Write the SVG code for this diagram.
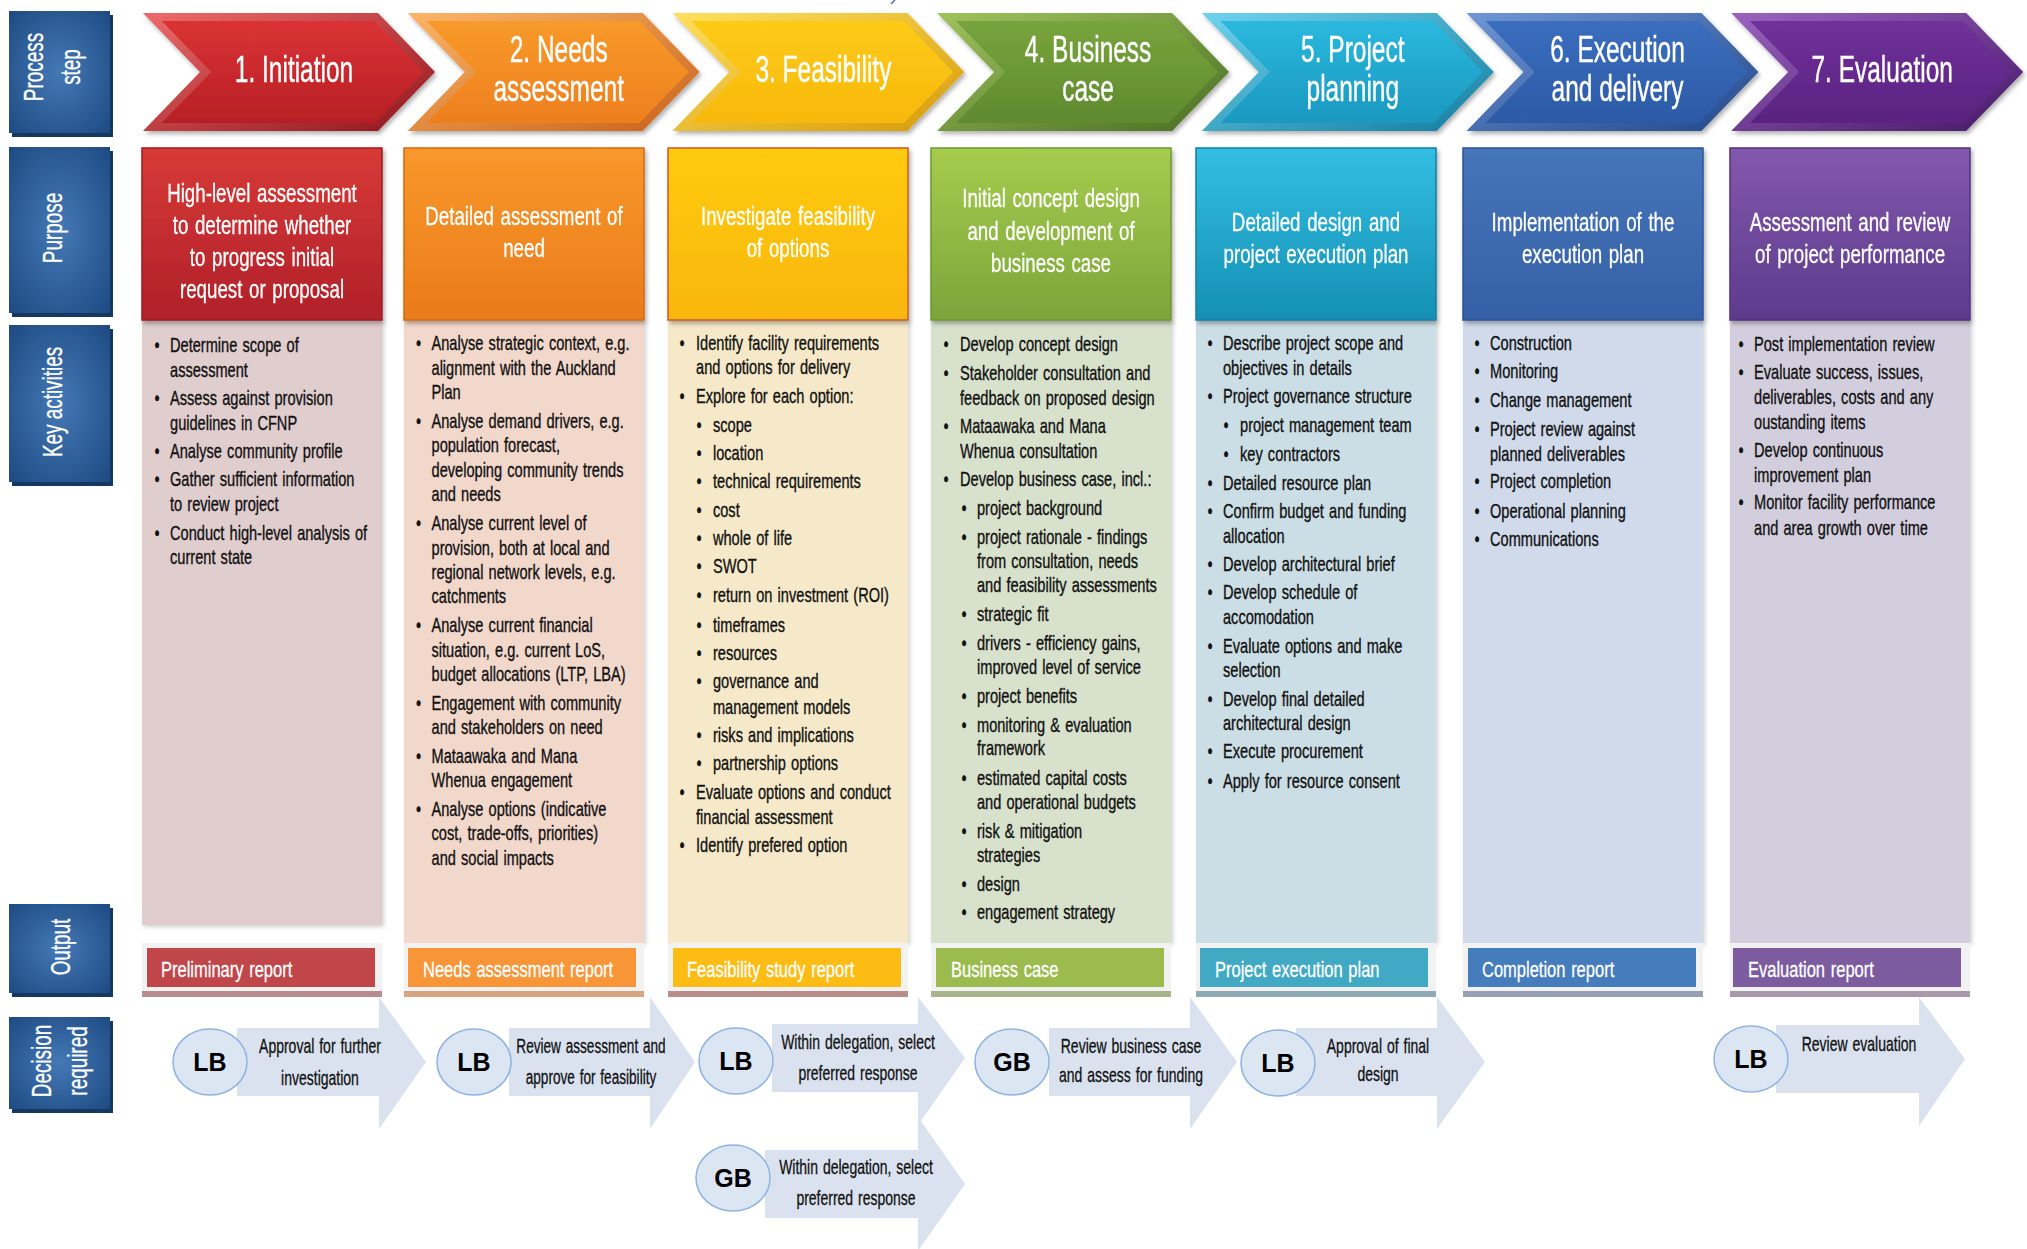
<svg xmlns="http://www.w3.org/2000/svg" width="2027" height="1249" viewBox="0 0 2027 1249">
<style>
text { font-family: "Liberation Sans", Arial, sans-serif; }
.chev { font-size: 36px; fill: #ffffff; text-anchor: middle; stroke: #ffffff; stroke-width: 0.4px; }
.purp { font-size: 26px; fill: #ffffff; text-anchor: middle; word-spacing: 2px; stroke: #ffffff; stroke-width: 0.3px; }
.act { font-size: 20px; fill: #111111; word-spacing: 1.5px; stroke: #111111; stroke-width: 0.35px; }
.out { font-size: 22px; fill: #ffffff; word-spacing: 1.5px; stroke: #ffffff; stroke-width: 0.3px; }
.dec { font-size: 20px; fill: #111111; text-anchor: middle; word-spacing: 1.5px; stroke: #111111; stroke-width: 0.3px; }
.badge { font-size: 25px; font-weight: bold; fill: #000000; text-anchor: middle; }
.row { font-size: 27px; fill: #ffffff; text-anchor: middle; stroke: #ffffff; stroke-width: 0.3px; }
.rowbox { fill: url(#rl); }
.rowsh { fill: #143862; }
.frame { fill: #F2F2F2; }
.arrow { fill: #DAE2EF; }
.badgeshape { fill: #DCE6F3; stroke: #8DB3E2; stroke-width: 1.5; }
</style>
<defs>
<filter id="sh" x="-5%" y="-5%" width="115%" height="120%"><feDropShadow dx="2" dy="3" stdDeviation="2" flood-color="#000" flood-opacity="0.3"/></filter>
<filter id="shl" x="-5%" y="-2%" width="115%" height="106%"><feDropShadow dx="2" dy="2" stdDeviation="2" flood-color="#000" flood-opacity="0.18"/></filter>
<radialGradient id="rl" cx="50%" cy="50%" r="70%"><stop offset="0" stop-color="#4479B6"/><stop offset="1" stop-color="#1E4A82"/></radialGradient>
<polygon id="chevOuter" points="0,13 235,13 292,72 235,131 0,131 57,72"/>
<polygon id="chevInner" points="18.8,21 231.6,21 280.9,72 231.6,123 18.8,123 68.1,72"/>
<linearGradient id="c1" x1="0" y1="0" x2="0" y2="1"><stop offset="0" stop-color="#DA3335"/><stop offset="1" stop-color="#B71F26"/></linearGradient>
<linearGradient id="c2" x1="0" y1="0" x2="0" y2="1"><stop offset="0" stop-color="#F89A2A"/><stop offset="1" stop-color="#EE7F1E"/></linearGradient>
<linearGradient id="c3" x1="0" y1="0" x2="0" y2="1"><stop offset="0" stop-color="#FDCB16"/><stop offset="1" stop-color="#F8B80E"/></linearGradient>
<linearGradient id="c4" x1="0" y1="0" x2="0" y2="1"><stop offset="0" stop-color="#78A43C"/><stop offset="1" stop-color="#5F8A2F"/></linearGradient>
<linearGradient id="c5" x1="0" y1="0" x2="0" y2="1"><stop offset="0" stop-color="#2BB8DE"/><stop offset="1" stop-color="#1A98C0"/></linearGradient>
<linearGradient id="c6" x1="0" y1="0" x2="0" y2="1"><stop offset="0" stop-color="#3A6EBE"/><stop offset="1" stop-color="#2C5AA6"/></linearGradient>
<linearGradient id="c7" x1="0" y1="0" x2="0" y2="1"><stop offset="0" stop-color="#70319A"/><stop offset="1" stop-color="#5A2381"/></linearGradient>
<linearGradient id="b1" x1="0" y1="0" x2="1" y2="1"><stop offset="0" stop-color="#EE6B6B"/><stop offset="1" stop-color="#8F151B"/></linearGradient>
<linearGradient id="b2" x1="0" y1="0" x2="1" y2="1"><stop offset="0" stop-color="#FBB56A"/><stop offset="1" stop-color="#C9621A"/></linearGradient>
<linearGradient id="b3" x1="0" y1="0" x2="1" y2="1"><stop offset="0" stop-color="#FEE05E"/><stop offset="1" stop-color="#D79A08"/></linearGradient>
<linearGradient id="b4" x1="0" y1="0" x2="1" y2="1"><stop offset="0" stop-color="#A0C35E"/><stop offset="1" stop-color="#496E22"/></linearGradient>
<linearGradient id="b5" x1="0" y1="0" x2="1" y2="1"><stop offset="0" stop-color="#6FD3EE"/><stop offset="1" stop-color="#137C9E"/></linearGradient>
<linearGradient id="b6" x1="0" y1="0" x2="1" y2="1"><stop offset="0" stop-color="#6F96D6"/><stop offset="1" stop-color="#22478A"/></linearGradient>
<linearGradient id="b7" x1="0" y1="0" x2="1" y2="1"><stop offset="0" stop-color="#9A63C0"/><stop offset="1" stop-color="#451866"/></linearGradient>
<linearGradient id="p1" x1="0" y1="0" x2="0" y2="1"><stop offset="0" stop-color="#D73A36"/><stop offset="1" stop-color="#B0202A"/></linearGradient>
<linearGradient id="p2" x1="0" y1="0" x2="0" y2="1"><stop offset="0" stop-color="#F8982A"/><stop offset="1" stop-color="#EB7B1B"/></linearGradient>
<linearGradient id="p3" x1="0" y1="0" x2="0" y2="1"><stop offset="0" stop-color="#FFCB0E"/><stop offset="1" stop-color="#F8B60A"/></linearGradient>
<linearGradient id="p4" x1="0" y1="0" x2="0" y2="1"><stop offset="0" stop-color="#A6CC4E"/><stop offset="1" stop-color="#7BA53A"/></linearGradient>
<linearGradient id="p5" x1="0" y1="0" x2="0" y2="1"><stop offset="0" stop-color="#33BEE3"/><stop offset="1" stop-color="#1590B4"/></linearGradient>
<linearGradient id="p6" x1="0" y1="0" x2="0" y2="1"><stop offset="0" stop-color="#4675BA"/><stop offset="1" stop-color="#3560A6"/></linearGradient>
<linearGradient id="p7" x1="0" y1="0" x2="0" y2="1"><stop offset="0" stop-color="#8259AC"/><stop offset="1" stop-color="#5D3A8C"/></linearGradient>
</defs>
<rect x="0" y="0" width="2027" height="1249" fill="#ffffff"/>
<path d="M895 0 L891 4" stroke="#3A6FC4" stroke-width="1.5" fill="none"/>

<!-- Row labels -->
<g id="label-process-step">
<rect class="rowsh" x="12" y="15" width="101" height="122"/>
<rect class="rowbox" x="9" y="11" width="101" height="122"/>
<text class="row" transform="translate(43 67) rotate(-90) scale(0.7 1)">Process</text>
<text class="row" transform="translate(80 67) rotate(-90) scale(0.7 1)">step</text>
</g>
<g id="label-purpose">
<rect class="rowsh" x="12" y="151" width="101" height="166"/>
<rect class="rowbox" x="9" y="147" width="101" height="166"/>
<text class="row" transform="translate(62 228) rotate(-90) scale(0.7 1)">Purpose</text>
</g>
<g id="label-key-activities">
<rect class="rowsh" x="12" y="329" width="101" height="157"/>
<rect class="rowbox" x="9" y="325" width="101" height="157"/>
<text class="row" transform="translate(62 402) rotate(-90) scale(0.7 1)">Key activities</text>
</g>
<g id="label-output">
<rect class="rowsh" x="12" y="908" width="101" height="89"/>
<rect class="rowbox" x="9" y="904" width="101" height="89"/>
<text class="row" transform="translate(70 947) rotate(-90) scale(0.7 1)">Output</text>
</g>
<g id="label-decision-required">
<rect class="rowsh" x="12" y="1021" width="101" height="92"/>
<rect class="rowbox" x="9" y="1017" width="101" height="92"/>
<text class="row" transform="translate(51 1061) rotate(-90) scale(0.7 1)">Decision</text>
<text class="row" transform="translate(87 1061) rotate(-90) scale(0.7 1)">required</text>
</g>

<!-- Chevrons -->
<g id="step1-chevron" filter="url(#sh)">
<use href="#chevOuter" x="143" fill="url(#b1)"/><use href="#chevInner" x="143" fill="url(#c1)"/>
<g transform="translate(294 0) scale(0.68 1)"><text class="chev" x="0" y="82">1. Initiation</text></g>
</g>
<g id="step2-chevron" filter="url(#sh)">
<use href="#chevOuter" x="407.7" fill="url(#b2)"/><use href="#chevInner" x="407.7" fill="url(#c2)"/>
<g transform="translate(558.7 0) scale(0.68 1)"><text class="chev" x="0" y="62">2. Needs</text><text class="chev" x="0" y="101">assessment</text></g>
</g>
<g id="step3-chevron" filter="url(#sh)">
<use href="#chevOuter" x="672.4" fill="url(#b3)"/><use href="#chevInner" x="672.4" fill="url(#c3)"/>
<g transform="translate(823.4 0) scale(0.68 1)"><text class="chev" x="0" y="82">3. Feasibility</text></g>
</g>
<g id="step4-chevron" filter="url(#sh)">
<use href="#chevOuter" x="937.1" fill="url(#b4)"/><use href="#chevInner" x="937.1" fill="url(#c4)"/>
<g transform="translate(1088.1 0) scale(0.68 1)"><text class="chev" x="0" y="62">4. Business</text><text class="chev" x="0" y="101">case</text></g>
</g>
<g id="step5-chevron" filter="url(#sh)">
<use href="#chevOuter" x="1201.8" fill="url(#b5)"/><use href="#chevInner" x="1201.8" fill="url(#c5)"/>
<g transform="translate(1352.8 0) scale(0.68 1)"><text class="chev" x="0" y="62">5. Project</text><text class="chev" x="0" y="101">planning</text></g>
</g>
<g id="step6-chevron" filter="url(#sh)">
<use href="#chevOuter" x="1466.5" fill="url(#b6)"/><use href="#chevInner" x="1466.5" fill="url(#c6)"/>
<g transform="translate(1617.5 0) scale(0.68 1)"><text class="chev" x="0" y="62">6. Execution</text><text class="chev" x="0" y="101">and delivery</text></g>
</g>
<g id="step7-chevron" filter="url(#sh)">
<use href="#chevOuter" x="1731.2" fill="url(#b7)"/><use href="#chevInner" x="1731.2" fill="url(#c7)"/>
<g transform="translate(1882.2 0) scale(0.68 1)"><text class="chev" x="0" y="82">7. Evaluation</text></g>
</g>

<!-- Activity panels -->
<g id="step1-activities">
<rect x="142" y="320" width="240" height="605" fill="#E0CDCE" filter="url(#shl)"/>
<g transform="translate(142 0) scale(0.73 1)"><text class="act">
<tspan x="17.1" y="352">•</tspan><tspan x="38.4" y="352">Determine scope of</tspan>
<tspan x="38.4" y="377">assessment</tspan>
<tspan x="17.1" y="405.5">•</tspan><tspan x="38.4" y="405.5">Assess against provision</tspan>
<tspan x="38.4" y="430">guidelines in CFNP</tspan>
<tspan x="17.1" y="458">•</tspan><tspan x="38.4" y="458">Analyse community profile</tspan>
<tspan x="17.1" y="486.5">•</tspan><tspan x="38.4" y="486.5">Gather sufficient information</tspan>
<tspan x="38.4" y="511">to review project</tspan>
<tspan x="17.1" y="540">•</tspan><tspan x="38.4" y="540">Conduct high-level analysis of</tspan>
<tspan x="38.4" y="564.5">current state</tspan>
</text></g>
</g>
<g id="step2-activities">
<rect x="404" y="320" width="240" height="623" fill="#F2D7CB" filter="url(#shl)"/>
<g transform="translate(404 0) scale(0.73 1)"><text class="act">
<tspan x="16.4" y="350">•</tspan><tspan x="37.7" y="350">Analyse strategic context, e.g.</tspan>
<tspan x="37.7" y="375">alignment with the Auckland</tspan>
<tspan x="37.7" y="399">Plan</tspan>
<tspan x="16.4" y="428">•</tspan><tspan x="37.7" y="428">Analyse demand drivers, e.g.</tspan>
<tspan x="37.7" y="452">population forecast,</tspan>
<tspan x="37.7" y="477">developing community trends</tspan>
<tspan x="37.7" y="501">and needs</tspan>
<tspan x="16.4" y="530">•</tspan><tspan x="37.7" y="530">Analyse current level of</tspan>
<tspan x="37.7" y="555">provision, both at local and</tspan>
<tspan x="37.7" y="579">regional network levels, e.g.</tspan>
<tspan x="37.7" y="603">catchments</tspan>
<tspan x="16.4" y="632">•</tspan><tspan x="37.7" y="632">Analyse current financial</tspan>
<tspan x="37.7" y="657">situation, e.g. current LoS,</tspan>
<tspan x="37.7" y="681">budget allocations (LTP, LBA)</tspan>
<tspan x="16.4" y="710">•</tspan><tspan x="37.7" y="710">Engagement with community</tspan>
<tspan x="37.7" y="734">and stakeholders on need</tspan>
<tspan x="16.4" y="763">•</tspan><tspan x="37.7" y="763">Mataawaka and Mana</tspan>
<tspan x="37.7" y="787">Whenua engagement</tspan>
<tspan x="16.4" y="816">•</tspan><tspan x="37.7" y="816">Analyse options (indicative</tspan>
<tspan x="37.7" y="840.5">cost, trade-offs, priorities)</tspan>
<tspan x="37.7" y="865">and social impacts</tspan>
</text></g>
</g>
<g id="step3-activities">
<rect x="668" y="320" width="240" height="623" fill="#F5E9C9" filter="url(#shl)"/>
<g transform="translate(668 0) scale(0.73 1)"><text class="act">
<tspan x="15.8" y="350">•</tspan><tspan x="38.4" y="350">Identify facility requirements</tspan>
<tspan x="38.4" y="374">and options for delivery</tspan>
<tspan x="15.8" y="403">•</tspan><tspan x="38.4" y="403">Explore for each option:</tspan>
<tspan x="39" y="432.5">•</tspan><tspan x="61.6" y="432.5">scope</tspan>
<tspan x="39" y="460">•</tspan><tspan x="61.6" y="460">location</tspan>
<tspan x="39" y="488.5">•</tspan><tspan x="61.6" y="488.5">technical requirements</tspan>
<tspan x="39" y="517.5">•</tspan><tspan x="61.6" y="517.5">cost</tspan>
<tspan x="39" y="545">•</tspan><tspan x="61.6" y="545">whole of life</tspan>
<tspan x="39" y="573.5">•</tspan><tspan x="61.6" y="573.5">SWOT</tspan>
<tspan x="39" y="602.5">•</tspan><tspan x="61.6" y="602.5">return on investment (ROI)</tspan>
<tspan x="39" y="632">•</tspan><tspan x="61.6" y="632">timeframes</tspan>
<tspan x="39" y="660">•</tspan><tspan x="61.6" y="660">resources</tspan>
<tspan x="39" y="688">•</tspan><tspan x="61.6" y="688">governance and</tspan>
<tspan x="61.6" y="714">management models</tspan>
<tspan x="39" y="742">•</tspan><tspan x="61.6" y="742">risks and implications</tspan>
<tspan x="39" y="770.5">•</tspan><tspan x="61.6" y="770.5">partnership options</tspan>
<tspan x="15.8" y="799">•</tspan><tspan x="38.4" y="799">Evaluate options and conduct</tspan>
<tspan x="38.4" y="824">financial assessment</tspan>
<tspan x="15.8" y="852.5">•</tspan><tspan x="38.4" y="852.5">Identify prefered option</tspan>
</text></g>
</g>
<g id="step4-activities">
<rect x="931" y="320" width="240" height="623" fill="#D8E1CC" filter="url(#shl)"/>
<g transform="translate(931 0) scale(0.73 1)"><text class="act">
<tspan x="17.1" y="351">•</tspan><tspan x="39.7" y="351">Develop concept design</tspan>
<tspan x="17.1" y="380">•</tspan><tspan x="39.7" y="380">Stakeholder consultation and</tspan>
<tspan x="39.7" y="405">feedback on proposed design</tspan>
<tspan x="17.1" y="433">•</tspan><tspan x="39.7" y="433">Mataawaka and Mana</tspan>
<tspan x="39.7" y="458">Whenua consultation</tspan>
<tspan x="17.1" y="486.5">•</tspan><tspan x="39.7" y="486.5">Develop business case, incl.:</tspan>
<tspan x="41.8" y="515">•</tspan><tspan x="63" y="515">project background</tspan>
<tspan x="41.8" y="544">•</tspan><tspan x="63" y="544">project rationale - findings</tspan>
<tspan x="63" y="568">from consultation, needs</tspan>
<tspan x="63" y="592.5">and feasibility assessments</tspan>
<tspan x="41.8" y="621">•</tspan><tspan x="63" y="621">strategic fit</tspan>
<tspan x="41.8" y="650">•</tspan><tspan x="63" y="650">drivers - efficiency gains,</tspan>
<tspan x="63" y="674.5">improved level of service</tspan>
<tspan x="41.8" y="703">•</tspan><tspan x="63" y="703">project benefits</tspan>
<tspan x="41.8" y="732">•</tspan><tspan x="63" y="732">monitoring &amp; evaluation</tspan>
<tspan x="63" y="755.5">framework</tspan>
<tspan x="41.8" y="785">•</tspan><tspan x="63" y="785">estimated capital costs</tspan>
<tspan x="63" y="809">and operational budgets</tspan>
<tspan x="41.8" y="838">•</tspan><tspan x="63" y="838">risk &amp; mitigation</tspan>
<tspan x="63" y="862">strategies</tspan>
<tspan x="41.8" y="891">•</tspan><tspan x="63" y="891">design</tspan>
<tspan x="41.8" y="919.5">•</tspan><tspan x="63" y="919.5">engagement strategy</tspan>
</text></g>
</g>
<g id="step5-activities">
<rect x="1196" y="320" width="240" height="623" fill="#CCDEE5" filter="url(#shl)"/>
<g transform="translate(1196 0) scale(0.73 1)"><text class="act">
<tspan x="15.8" y="350">•</tspan><tspan x="37" y="350">Describe project scope and</tspan>
<tspan x="37" y="375">objectives in details</tspan>
<tspan x="15.8" y="403.5">•</tspan><tspan x="37" y="403.5">Project governance structure</tspan>
<tspan x="37.7" y="432.5">•</tspan><tspan x="60.3" y="432.5">project management team</tspan>
<tspan x="37.7" y="461">•</tspan><tspan x="60.3" y="461">key contractors</tspan>
<tspan x="15.8" y="490">•</tspan><tspan x="37" y="490">Detailed resource plan</tspan>
<tspan x="15.8" y="518">•</tspan><tspan x="37" y="518">Confirm budget and funding</tspan>
<tspan x="37" y="543">allocation</tspan>
<tspan x="15.8" y="571.5">•</tspan><tspan x="37" y="571.5">Develop architectural brief</tspan>
<tspan x="15.8" y="599">•</tspan><tspan x="37" y="599">Develop schedule of</tspan>
<tspan x="37" y="624">accomodation</tspan>
<tspan x="15.8" y="653.5">•</tspan><tspan x="37" y="653.5">Evaluate options and make</tspan>
<tspan x="37" y="677.5">selection</tspan>
<tspan x="15.8" y="706">•</tspan><tspan x="37" y="706">Develop final detailed</tspan>
<tspan x="37" y="730.5">architectural design</tspan>
<tspan x="15.8" y="758.5">•</tspan><tspan x="37" y="758.5">Execute procurement</tspan>
<tspan x="15.8" y="788">•</tspan><tspan x="37" y="788">Apply for resource consent</tspan>
</text></g>
</g>
<g id="step6-activities">
<rect x="1463" y="320" width="240" height="623" fill="#D0DAEB" filter="url(#shl)"/>
<g transform="translate(1463 0) scale(0.73 1)"><text class="act">
<tspan x="15.8" y="350">•</tspan><tspan x="37" y="350">Construction</tspan>
<tspan x="15.8" y="378.5">•</tspan><tspan x="37" y="378.5">Monitoring</tspan>
<tspan x="15.8" y="407.5">•</tspan><tspan x="37" y="407.5">Change management</tspan>
<tspan x="15.8" y="436.5">•</tspan><tspan x="37" y="436.5">Project review against</tspan>
<tspan x="37" y="461">planned deliverables</tspan>
<tspan x="15.8" y="488.5">•</tspan><tspan x="37" y="488.5">Project completion</tspan>
<tspan x="15.8" y="518">•</tspan><tspan x="37" y="518">Operational planning</tspan>
<tspan x="15.8" y="546.5">•</tspan><tspan x="37" y="546.5">Communications</tspan>
</text></g>
</g>
<g id="step7-activities">
<rect x="1730" y="320" width="240" height="623" fill="#D3CEDD" filter="url(#shl)"/>
<g transform="translate(1730 0) scale(0.73 1)"><text class="act">
<tspan x="11.6" y="351">•</tspan><tspan x="32.9" y="351">Post implementation review</tspan>
<tspan x="11.6" y="379">•</tspan><tspan x="32.9" y="379">Evaluate success, issues,</tspan>
<tspan x="32.9" y="404">deliverables, costs and any</tspan>
<tspan x="32.9" y="429">oustanding items</tspan>
<tspan x="11.6" y="457">•</tspan><tspan x="32.9" y="457">Develop continuous</tspan>
<tspan x="32.9" y="482">improvement plan</tspan>
<tspan x="11.6" y="509.5">•</tspan><tspan x="32.9" y="509.5">Monitor facility performance</tspan>
<tspan x="32.9" y="535">and area growth over time</tspan>
</text></g>
</g>

<!-- Purpose boxes -->
<g id="step1-purpose" filter="url(#sh)">
<rect x="142" y="148" width="240" height="172" fill="url(#p1)" stroke="#9E1C22" stroke-width="1.5"/>
<g transform="translate(262 0) scale(0.72 1)"><text class="purp"><tspan x="0" y="202">High-level assessment</tspan><tspan x="0" y="234">to determine whether</tspan><tspan x="0" y="266">to progress initial</tspan><tspan x="0" y="298">request or proposal</tspan></text></g>
</g>
<g id="step2-purpose" filter="url(#sh)">
<rect x="404" y="148" width="240" height="172" fill="url(#p2)" stroke="#D56A14" stroke-width="1.5"/>
<g transform="translate(524 0) scale(0.72 1)"><text class="purp"><tspan x="0" y="225">Detailed assessment of</tspan><tspan x="0" y="257">need</tspan></text></g>
</g>
<g id="step3-purpose" filter="url(#sh)">
<rect x="668" y="148" width="240" height="172" fill="url(#p3)" stroke="#D05A2A" stroke-width="1.5"/>
<g transform="translate(788 0) scale(0.72 1)"><text class="purp"><tspan x="0" y="225">Investigate feasibility</tspan><tspan x="0" y="257">of options</tspan></text></g>
</g>
<g id="step4-purpose" filter="url(#sh)">
<rect x="931" y="148" width="240" height="172" fill="url(#p4)" stroke="#6E9632" stroke-width="1.5"/>
<g transform="translate(1051 0) scale(0.72 1)"><text class="purp"><tspan x="0" y="207">Initial concept design</tspan><tspan x="0" y="240">and development of</tspan><tspan x="0" y="272">business case</tspan></text></g>
</g>
<g id="step5-purpose" filter="url(#sh)">
<rect x="1196" y="148" width="240" height="172" fill="url(#p5)" stroke="#137FA0" stroke-width="1.5"/>
<g transform="translate(1316 0) scale(0.72 1)"><text class="purp"><tspan x="0" y="231">Detailed design and</tspan><tspan x="0" y="263">project execution plan</tspan></text></g>
</g>
<g id="step6-purpose" filter="url(#sh)">
<rect x="1463" y="148" width="240" height="172" fill="url(#p6)" stroke="#2C5494" stroke-width="1.5"/>
<g transform="translate(1583 0) scale(0.72 1)"><text class="purp"><tspan x="0" y="231">Implementation of the</tspan><tspan x="0" y="263">execution plan</tspan></text></g>
</g>
<g id="step7-purpose" filter="url(#sh)">
<rect x="1730" y="148" width="240" height="172" fill="url(#p7)" stroke="#51337C" stroke-width="1.5"/>
<g transform="translate(1850 0) scale(0.72 1)"><text class="purp"><tspan x="0" y="231">Assessment and review</tspan><tspan x="0" y="263">of project performance</tspan></text></g>
</g>

<!-- Outputs -->
<g id="step1-output">
<rect class="frame" x="142" y="943" width="240" height="54"/><rect x="142" y="991" width="240" height="6" fill="#B98C8E"/>
<rect x="147" y="948" width="228" height="39" fill="#C0464A"/>
<g transform="translate(161 0) scale(0.75 1)"><text class="out" x="0" y="977">Preliminary report</text></g>
</g>
<g id="step2-output">
<rect class="frame" x="404" y="943" width="240" height="54"/><rect x="404" y="991" width="240" height="6" fill="#D6A47F"/>
<rect x="408" y="948" width="228" height="39" fill="#F79537"/>
<g transform="translate(423 0) scale(0.75 1)"><text class="out" x="0" y="977">Needs assessment report</text></g>
</g>
<g id="step3-output">
<rect class="frame" x="668" y="943" width="240" height="54"/><rect x="668" y="991" width="240" height="6" fill="#B98E8A"/>
<rect x="673" y="948" width="228" height="39" fill="#FCBC14"/>
<g transform="translate(687 0) scale(0.75 1)"><text class="out" x="0" y="977">Feasibility study report</text></g>
</g>
<g id="step4-output">
<rect class="frame" x="931" y="943" width="240" height="54"/><rect x="931" y="991" width="240" height="6" fill="#A8B48C"/>
<rect x="936" y="948" width="228" height="39" fill="#9BBB4E"/>
<g transform="translate(951 0) scale(0.75 1)"><text class="out" x="0" y="977">Business case</text></g>
</g>
<g id="step5-output">
<rect class="frame" x="1196" y="943" width="240" height="54"/><rect x="1196" y="991" width="240" height="6" fill="#8FA9B2"/>
<rect x="1200" y="948" width="228" height="39" fill="#42A9C5"/>
<g transform="translate(1215 0) scale(0.75 1)"><text class="out" x="0" y="977">Project execution plan</text></g>
</g>
<g id="step6-output">
<rect class="frame" x="1463" y="943" width="240" height="54"/><rect x="1463" y="991" width="240" height="6" fill="#98A0B4"/>
<rect x="1468" y="948" width="228" height="39" fill="#447CBC"/>
<g transform="translate(1482 0) scale(0.75 1)"><text class="out" x="0" y="977">Completion report</text></g>
</g>
<g id="step7-output">
<rect class="frame" x="1730" y="943" width="240" height="54"/><rect x="1730" y="991" width="240" height="6" fill="#A898AA"/>
<rect x="1733" y="948" width="228" height="39" fill="#7C5C9F"/>
<g transform="translate(1748 0) scale(0.75 1)"><text class="out" x="0" y="977">Evaluation report</text></g>
</g>

<!-- Connectors: decision block arrows -->
<g id="connectors">
<polygon class="arrow" points="237,1028 379,1028 379,997 426,1062 379,1129 379,1096 237,1096"/>
<polygon class="arrow" points="509,1028 650,1028 650,997 695,1062 650,1129 650,1096 509,1096"/>
<polygon class="arrow" points="772,1024 918,1024 918,997 965,1058 918,1125 918,1092 772,1092"/>
<polygon class="arrow" points="765,1150 918,1150 918,1117 965,1184 918,1251 918,1218 765,1218"/>
<polygon class="arrow" points="1049,1028 1190,1028 1190,997 1237,1062 1190,1129 1190,1096 1049,1096"/>
<polygon class="arrow" points="1296,1028 1437,1028 1437,997 1485,1062 1437,1129 1437,1096 1296,1096"/>
<polygon class="arrow" points="1776,1025 1919,1025 1919,997 1965,1059 1919,1126 1919,1093 1776,1093"/>
</g>

<!-- Decisions -->
<g id="decision1">
<ellipse class="badgeshape" cx="210" cy="1062" rx="37" ry="33"/>
<text class="badge" x="210" y="1071">LB</text>
<g transform="translate(320 0) scale(0.7 1)"><text class="dec"><tspan x="0" y="1053">Approval for further</tspan><tspan x="0" y="1085">investigation</tspan></text></g>
</g>
<g id="decision2">
<ellipse class="badgeshape" cx="474" cy="1062" rx="37" ry="33"/>
<text class="badge" x="474" y="1071">LB</text>
<g transform="translate(591 0) scale(0.68 1)"><text class="dec"><tspan x="0" y="1053">Review assessment and</tspan><tspan x="0" y="1084">approve for feasibility</tspan></text></g>
</g>
<g id="decision3-lb">
<ellipse class="badgeshape" cx="736" cy="1061" rx="37" ry="33"/>
<text class="badge" x="736" y="1070">LB</text>
<g transform="translate(858 0) scale(0.7 1)"><text class="dec"><tspan x="0" y="1049">Within delegation, select</tspan><tspan x="0" y="1080">preferred response</tspan></text></g>
</g>
<g id="decision3-gb">
<ellipse class="badgeshape" cx="733" cy="1178" rx="37" ry="33"/>
<text class="badge" x="733" y="1187">GB</text>
<g transform="translate(856 0) scale(0.7 1)"><text class="dec"><tspan x="0" y="1174">Within delegation, select</tspan><tspan x="0" y="1205">preferred response</tspan></text></g>
</g>
<g id="decision4">
<ellipse class="badgeshape" cx="1012" cy="1062" rx="37" ry="33"/>
<text class="badge" x="1012" y="1071">GB</text>
<g transform="translate(1131 0) scale(0.7 1)"><text class="dec"><tspan x="0" y="1053">Review business case</tspan><tspan x="0" y="1082">and assess for funding</tspan></text></g>
</g>
<g id="decision5">
<ellipse class="badgeshape" cx="1278" cy="1063" rx="37" ry="33"/>
<text class="badge" x="1278" y="1072">LB</text>
<g transform="translate(1378 0) scale(0.7 1)"><text class="dec"><tspan x="0" y="1053">Approval of final</tspan><tspan x="0" y="1081">design</tspan></text></g>
</g>
<g id="decision7">
<ellipse class="badgeshape" cx="1751" cy="1059" rx="37" ry="33"/>
<text class="badge" x="1751" y="1068">LB</text>
<g transform="translate(1859 0) scale(0.7 1)"><text class="dec"><tspan x="0" y="1051">Review evaluation</tspan></text></g>
</g>
</svg>
